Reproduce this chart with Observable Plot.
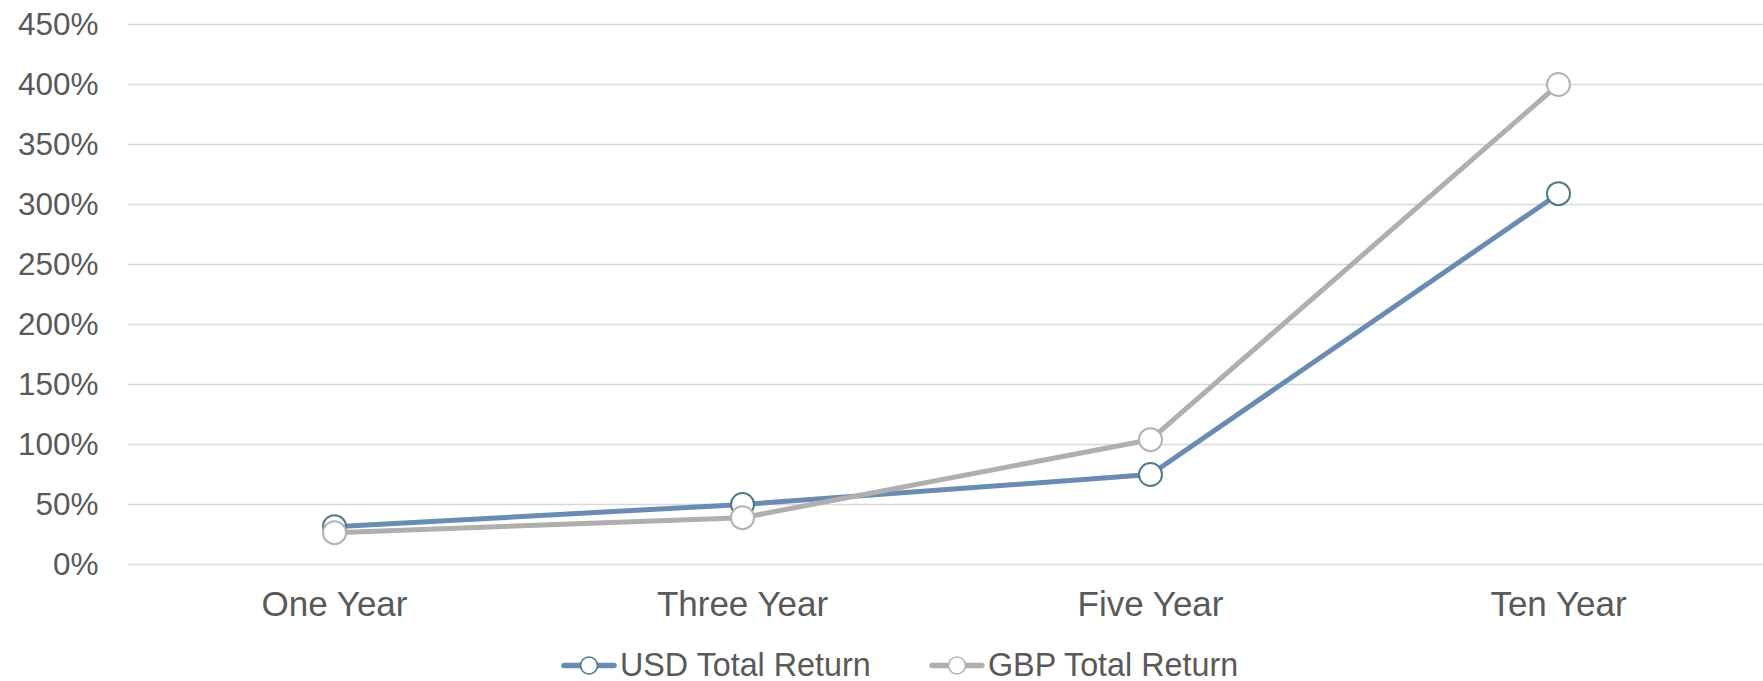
<!DOCTYPE html>
<html>
<head>
<meta charset="utf-8">
<script src="https://cdn.jsdelivr.net/npm/d3@7"></script>
<script src="https://cdn.jsdelivr.net/npm/@observablehq/plot@0.6"></script>
<style>
  html, body { margin: 0; padding: 0; background: #fff; }
  body { width: 1763px; height: 681px; overflow: hidden; font-family: "Liberation Sans", Arial, sans-serif; }
  #legend { position: relative; width: 1763px; height: 41px; color: #595959; font-size: 32.3px; }
  .item { position: absolute; top: 5px; height: 41px; display: flex; align-items: center; white-space: nowrap; }
  .item svg { display: block; margin-right: 3px; }
</style>
</head>
<body>
<div id="chart"></div>
<div id="legend"></div>
<script>
const categories = ["One Year", "Three Year", "Five Year", "Ten Year"];
const usdTotalReturn = [31.5, 50, 75, 309];
const gbpTotalReturn = [26.5, 39, 104, 400];
const yTicks = [0, 50, 100, 150, 200, 250, 300, 350, 400, 450];
const seriesNames = ["USD Total Return", "GBP Total Return"];

const usd = categories.map((c, i) => ({category: c, value: usdTotalReturn[i]}));
const gbp = categories.map((c, i) => ({category: c, value: gbpTotalReturn[i]}));

const usdLine = "#6a8bb3", usdStroke = "#4f7b80";
const gbpLine = "#afafaf", gbpStroke = "#b3b3b3";

const chart = Plot.plot({
  width: 1763,
  height: 640,
  marginLeft: 128,
  marginRight: 0,
  marginTop: 24,
  marginBottom: 76,
  style: {fontFamily: "'Liberation Sans', Arial, sans-serif", color: "#595959", background: "#fff"},
  x: {type: "point", domain: categories, padding: 0.5, label: null},
  y: {domain: [0, 450], label: null},
  marks: [
    Plot.gridY(yTicks, {stroke: "#d9d9d9", strokeOpacity: 1, strokeWidth: 1.6}),
    Plot.axisY(yTicks, {tickSize: 0, tickPadding: 30, fontSize: 31.5, tickFormat: d => d + "%", label: null, fill: "#595959"}),
    Plot.axisX({tickSize: 0, tickPadding: 27, fontSize: 35, label: null, fill: "#595959"}),
    Plot.line(usd, {x: "category", y: "value", stroke: usdLine, strokeWidth: 5}),
    Plot.dot(usd, {x: "category", y: "value", r: 11.5, fill: "#fff", stroke: usdStroke, strokeWidth: 2}),
    Plot.line(gbp, {x: "category", y: "value", stroke: gbpLine, strokeWidth: 5}),
    Plot.dot(gbp, {x: "category", y: "value", r: 11.5, fill: "#fff", stroke: gbpStroke, strokeWidth: 2})
  ]
});
document.getElementById("chart").appendChild(chart);

// legend
const legend = document.getElementById("legend");
const items = [
  {name: seriesNames[0], line: usdLine, stroke: usdStroke, left: 561},
  {name: seriesNames[1], line: gbpLine, stroke: gbpStroke, left: 929}
];
for (const it of items) {
  const div = document.createElement("div");
  div.className = "item";
  div.style.left = it.left + "px";
  div.innerHTML = `<svg width="56" height="41"><line x1="3" y1="20.5" x2="53" y2="20.5" stroke="${it.line}" stroke-width="5.5" stroke-linecap="round"/><circle cx="28" cy="20.5" r="8.5" fill="#fff" stroke="${it.stroke}" stroke-width="1.6"/></svg><span>${it.name}</span>`;
  legend.appendChild(div);
}
</script>
</body>
</html>
